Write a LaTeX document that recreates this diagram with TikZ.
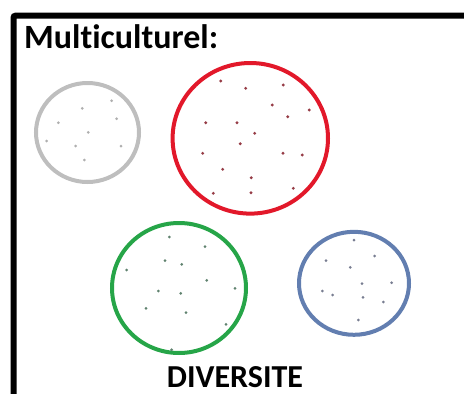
\documentclass[tikz,border=0pt]{standalone}
\usepackage{fontspec}
\newfontfamily\calib[Ligatures=NoCommon]{Carlito}
\definecolor{grisc}{RGB}{190,190,190}
\definecolor{grisp}{RGB}{175,175,175}
\definecolor{rougec}{RGB}{226,24,42}
\definecolor{rougep}{RGB}{150,60,70}
\definecolor{vertc}{RGB}{38,165,72}
\definecolor{vertp}{RGB}{95,130,110}
\definecolor{bleuc}{RGB}{98,126,176}
\definecolor{bleup}{RGB}{120,125,145}
\tikzset{
  cadre/.style={line width=6pt, rounded corners=2pt},
  cercle/.style={line width=4pt},
  titre/.style={inner sep=0pt, font=\calib\bfseries\fontsize{34}{38}\selectfont}
}
\begin{document}
\begin{tikzpicture}[x=1pt, y=-1pt]
      \useasboundingbox (0,0) rectangle (464,394);
      \draw[cadre] (13.5,394) -- (13.5,15.7) -- (464,15.7);
      \node[titre, anchor=base west] (multi) at (24,48) {Multiculturel:};
      \node[titre, anchor=base, font=\calib\bfseries\fontsize{32}{38}\selectfont] (diversite) at (235,387) {DIVERSITE};
      % cercles
      \draw[cercle, grisc] (87.5,132.5) ellipse (51.5pt and 49.5pt);
      \draw[cercle, rougec] (250.3,138.3) ellipse (77.7pt and 75.3pt);
      \draw[cercle, vertc] (179,288) ellipse (67pt and 65pt);
      \draw[cercle, bleuc] (354,283.3) ellipse (55pt and 51.5pt);
      % points
      \fill[grisp]
        (111.7,100.7) circle (1.5pt) (82.3,108.3) circle (1.5pt)
        (116.7,118.7) circle (1.5pt) (58.3,122.7) circle (1.5pt)
        (88.3,132.3) circle (1.5pt) (46.7,141) circle (1.5pt)
        (75.7,146) circle (1.5pt) (121,146) circle (1.5pt)
        (84.3,160) circle (1.5pt);
      \fill[rougep]
        (220.7,81) circle (1.6pt) (245.7,88.3) circle (1.6pt)
        (283.3,85) circle (1.6pt) (272.3,105) circle (1.6pt)
        (309.3,110) circle (1.6pt) (287.7,116.7) circle (1.6pt)
        (205.7,122.7) circle (1.6pt) (237,122.7) circle (1.6pt)
        (254.7,133.3) circle (1.6pt) (240.3,143.7) circle (1.6pt)
        (202.7,153.3) circle (1.6pt) (283,153.3) circle (1.6pt)
        (302.3,155) circle (1.6pt) (222.7,169.3) circle (1.6pt)
        (251.3,177.7) circle (1.6pt) (213.3,193.3) circle (1.6pt)
        (251,192.7) circle (1.6pt) (293.3,188.3) circle (1.6pt);
      \fill[vertp]
        (169.3,237) circle (1.5pt) (205,246.7) circle (1.5pt)
        (165,260.7) circle (1.5pt) (181.7,264.3) circle (1.5pt)
        (126.7,270) circle (1.5pt) (206.7,280.3) circle (1.5pt)
        (235,288.3) circle (1.5pt) (158.3,291) circle (1.5pt)
        (180.7,293.3) circle (1.5pt) (146,308.3) circle (1.5pt)
        (186,312.7) circle (1.5pt) (226,324.3) circle (1.5pt)
        (171.7,349.7) circle (1.5pt);
      \fill[bleup]
        (354,240) circle (1.5pt) (374.7,256) circle (1.5pt)
        (326,260.7) circle (1.5pt) (350.3,267.3) circle (1.5pt)
        (362,283.7) circle (1.5pt) (391.7,282.7) circle (1.5pt)
        (322.3,291) circle (1.5pt) (332.7,295) circle (1.5pt)
        (363,297.3) circle (1.5pt) (383.3,302) circle (1.5pt)
        (358.3,320) circle (1.5pt);
    \end{tikzpicture}
\end{document}
